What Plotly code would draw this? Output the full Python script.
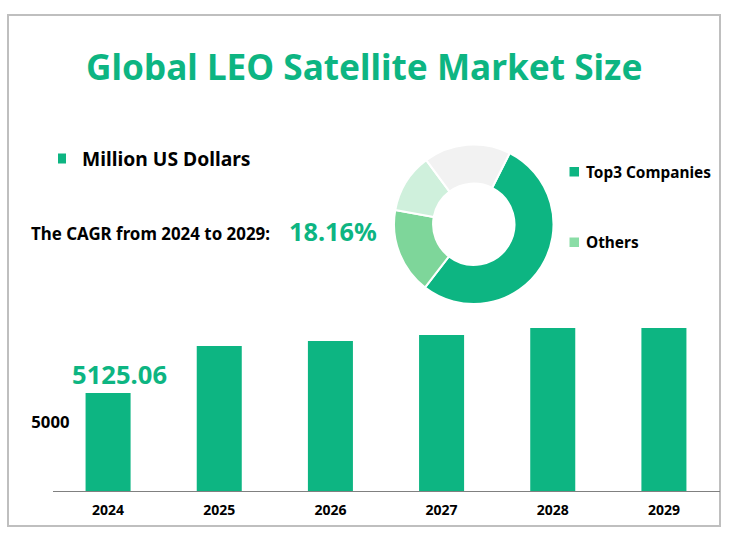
import plotly.graph_objects as go

years = ["2024", "2025", "2026", "2027", "2028", "2029"]
market_size = [5125.06, 5328, 5349, 5375, 5405, 5405]
share_labels = ["Top3 Companies", "Others", "Company D", "Company E"]
share_values = [53, 17.4, 12, 17.6]
share_colors = ["#0DB582", "#7ED69A", "#CFF0DC", "#F2F2F2"]
legend_labels = ["Top3 Companies", "Others"]
watermark = "网\u2009普\u2009斯\u2009咨\u2009询"
GREEN = "#0DB582"
FONT = "Noto Sans"
W, H = 733, 542

def px(x): return x / W
def py(y): return 1 - y / H

fig = go.Figure()
fig.add_trace(go.Bar(x=years, y=market_size, marker=dict(color=GREEN, line_width=0),
                     width=0.405, showlegend=False, hoverinfo="x+y"))
fig.add_trace(go.Pie(labels=share_labels, values=share_values, hole=0.51, rotation=26.8, sort=False,
                     direction="clockwise", marker=dict(colors=share_colors, line=dict(color="white", width=2)),
                     textinfo="none", showlegend=False,
                     domain=dict(x=[px(394), px(553.5)], y=[py(304), py(144.5)])))

anns = []
def text(x, y, s, size, color="#000000", anchor="left"):
    anns.append(dict(x=px(x), y=py(y), xref="paper", yref="paper", text=f"<b>{s}</b>", showarrow=False,
                     xanchor=anchor, yanchor="middle", font=dict(family=FONT, size=size, color=color)))

text(364, 66, "Global LEO Satellite Market Size", 35.2, GREEN, "center")
text(80, 158, "Million US Dollars", 19.3)
text(29, 234, "The CAGR from 2024 to 2029:", 16.9)
text(287, 231, "18.16%", 25.3, GREEN)
text(584, 172.5, legend_labels[0], 15.4)
text(584, 242.5, legend_labels[1], 15.4)

anns.append(dict(x=0, y=market_size[0], xref="x", yref="y", text=f"<b>{market_size[0]:.2f}</b>",
                 showarrow=False, xanchor="center", yanchor="bottom", xshift=11, yshift=-1,
                 font=dict(family=FONT, size=25.6, color=GREEN)))

shapes = [
    dict(type="rect", xref="paper", yref="paper", x0=px(8), x1=px(720), y0=py(526), y1=py(15),
         line=dict(color="#BFBFBF", width=2), fillcolor="rgba(0,0,0,0)", layer="below"),
    dict(type="rect", xref="paper", yref="paper", x0=px(58), x1=px(66), y0=py(163.5), y1=py(153.5),
         line_width=0, fillcolor=GREEN),
    dict(type="rect", xref="paper", yref="paper", x0=px(569.5), x1=px(579), y0=py(176.5), y1=py(167),
         line_width=0, fillcolor=share_colors[0]),
    dict(type="rect", xref="paper", yref="paper", x0=px(569.5), x1=px(579), y0=py(247), y1=py(237.5),
         line_width=0, fillcolor="#8ADDA6"),
]

for dx in (0, 331):
    for y0 in (62, 272, 478):
        anns.append(dict(x=px(212 + dx), y=py(y0), xref="paper", yref="paper", text=watermark,
                         showarrow=False, textangle=-10, xanchor="center", yanchor="middle",
                         font=dict(family="Noto Sans CJK SC", size=42, color="rgba(0,0,0,0.025)")))

fig.update_layout(
    width=W, height=H, margin=dict(l=0, r=0, t=0, b=0), paper_bgcolor="white", plot_bgcolor="rgba(0,0,0,0)",
    annotations=anns, shapes=shapes,
    xaxis=dict(domain=[px(52.5), px(719.5)], type="category", range=[-0.5, 5.5], showline=True,
               linecolor="#808080", linewidth=1,
               ticks="", showgrid=False, zeroline=False, ticklabelstandoff=6,
               tickfont=dict(family=FONT, size=14, color="#000000", weight="bold")),
    yaxis=dict(domain=[py(491), py(320)], range=[4703, 5440], tickvals=[5000], ticktext=["5000"],
               showgrid=False, zeroline=False, showline=False, ticks="", ticklabelstandoff=-18,
               tickfont=dict(family=FONT, size=16.7, color="#000000", weight="bold")),
)
fig.write_html("out.html", config={"displayModeBar": False}, post_script="document.body.style.margin='0';")
